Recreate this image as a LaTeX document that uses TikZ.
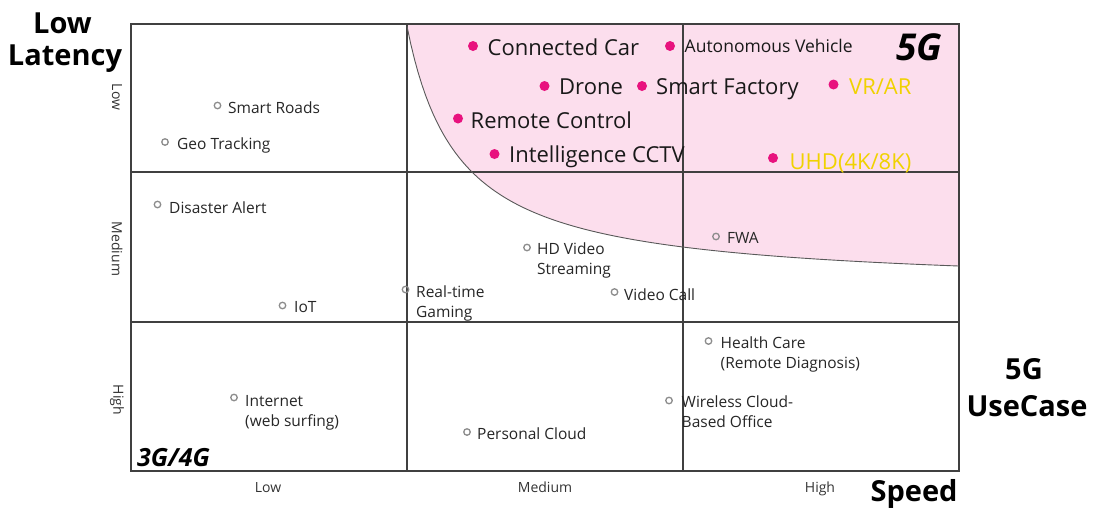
\documentclass[tikz,border=0pt]{standalone}
\usepackage{fontspec}
\setmainfont{Open Sans}
\usepackage{tikz}
\usetikzlibrary{positioning,calc}
\usepackage{xcolor}

\definecolor{fivegpink}{RGB}{252,222,237}
\definecolor{fivegdot}{RGB}{232,18,126}
\definecolor{fivegyellow}{RGB}{240,210,0}

\tikzset{
  gridline/.style={draw=black!75, line width=1.1pt},
  boundary/.style={draw=black!65, line width=0.9pt},
  olddot/.style={circle, draw=black!45, line width=1.3pt, inner sep=0pt, minimum size=6.5pt},
  newdot/.style={circle, fill=fivegdot, inner sep=0pt, minimum size=10pt},
  oldlabel/.style={inner sep=0pt, text=black!85, font=\fontsize{15.5}{20}\selectfont, align=left},
  newlabel/.style={inner sep=0pt, anchor=base west, text=black!90, font=\fontsize{22}{26}\selectfont},
  ticklabel/.style={inner sep=0pt, text=black!80, font=\fontsize{14}{16}\selectfont},
  axislabel/.style={inner sep=0pt, anchor=base, font=\fontsize{29}{32}\selectfont\bfseries},
  genlabel/.style={inner sep=0pt, anchor=base west, font=\bfseries\itshape},
}

\begin{document}
\begin{tikzpicture}[x=1pt, y=-1pt]
  \useasboundingbox (0,0) rectangle (1099,512);

  % 5G region
  \fill[fivegpink] (407,24) -- plot[domain=407:959, samples=150] (\x, {288.6-13640/(\x-355)})
    -- (959,24) -- cycle;

  % Grid
  \draw[gridline] (131,24) rectangle (959,471);
  \foreach \x in {407, 683}
  \draw[gridline] (\x,24) -- (\x,471);
  \foreach \y in {172, 322}
  \draw[gridline] (131,\y) -- (959,\y);

  % Border of the 5G region
  \draw[boundary] plot[domain=407:959, samples=150] (\x, {288.6-13640/(\x-355)});

  % Ticks
  \foreach \x/\t in {268/Low, 545/Medium, 820/High}
  \node[ticklabel, anchor=base] (speed-\t) at (\x,492) {\t};
  \foreach \y/\t in {97/Low, 249/Medium, 400/High}
  \node[ticklabel, rotate=-90] (latency-\t) at (117,\y) {\t};

  % Axis titles
  \node[axislabel] (lowtitle) at (62.5,33) {Low};
  \node[axislabel] (latencytitle) at (65,65) {Latency};
  \node[axislabel] (fivegtitle) at (1024,379) {5G};
  \node[axislabel] (usecasetitle) at (1027,416) {UseCase};
  \node[axislabel] (speedtitle) at (914,501.5) {Speed};

  % Generations
  \node[genlabel, font=\fontsize{37}{40}\selectfont\bfseries\itshape] (fiveg) at (896,60) {5G};
  \node[genlabel, font=\fontsize{25}{28}\selectfont\bfseries\itshape] (fourg) at (137,466) {3G/4G};

  % Use cases, 3G/4G
  \node[olddot] (roads) at (217.5,105.5) {};
  \node[oldlabel, anchor=base west] (roads-t) at (228,113.5) {Smart Roads};
  \node[olddot] (geo) at (165,142) {};
  \node[oldlabel, anchor=base west] (geo-t) at (177,149) {Geo Tracking};
  \node[olddot] (disaster) at (157.5,204.5) {};
  \node[oldlabel, anchor=base west] (disaster-t) at (169,213) {Disaster Alert};
  \node[olddot] (iot) at (282.5,305.5) {};
  \node[oldlabel, anchor=base west] (iot-t) at (294,312.5) {IoT};
  \node[olddot] (gaming) at (405.5,289.5) {};
  \node[oldlabel, anchor=north west] (gaming-t) at (416,285.5) {Real-time\\Gaming};
  \node[olddot] (hdvideo) at (527,247.5) {};
  \node[oldlabel, anchor=north west] (hdvideo-t) at (537,243) {HD Video\\Streaming};
  \node[olddot] (videocall) at (614.5,292) {};
  \node[oldlabel, anchor=base west] (videocall-t) at (624,300) {Video Call};
  \node[olddot] (fwa) at (716,236.5) {};
  \node[oldlabel, anchor=base west] (fwa-t) at (727,243.5) {FWA};
  \node[olddot] (health) at (708.5,341) {};
  \node[oldlabel, anchor=north west] (health-t) at (720.5,337) {Health Care\\(Remote Diagnosis)};
  \node[olddot] (office) at (669,400.5) {};
  \node[oldlabel, anchor=north west] (office-t) at (681.5,395.5) {Wireless Cloud-\\Based Office};
  \node[olddot] (internet) at (234,397.5) {};
  \node[oldlabel, anchor=north west] (internet-t) at (245,395) {Internet\\(web surfing)};
  \node[olddot] (pcloud) at (467,432) {};
  \node[oldlabel, anchor=base west] (pcloud-t) at (477,439) {Personal Cloud};

  % Use cases, 5G
  \node[newdot] (car) at (473,46) {};
  \node[newlabel] (car-t) at (487.5,55) {Connected Car};
  \node[newdot] (auto) at (670,46) {};
  \node[newlabel, font=\fontsize{17.5}{20}\selectfont] (auto-t) at (684.5,52.5) {Autonomous Vehicle};
  \node[newdot] (drone) at (544.5,86) {};
  \node[newlabel] (drone-t) at (559,94.5) {Drone};
  \node[newdot] (factory) at (642,86) {};
  \node[newlabel] (factory-t) at (656,94.5) {Smart Factory};
  \node[newdot] (vrar) at (833.5,84.5) {};
  \node[newlabel, text=fivegyellow] (vrar-t) at (849,94) {VR/AR};
  \node[newdot] (remote) at (458,118.5) {};
  \node[newlabel] (remote-t) at (470.5,128.5) {Remote Control};
  \node[newdot] (cctv) at (494.5,154) {};
  \node[newlabel] (cctv-t) at (509,162.5) {Intelligence CCTV};
  \node[newdot] (uhd) at (773,158) {};
  \node[newlabel, text=fivegyellow] (uhd-t) at (789.5,169) {UHD(4K/8K)};
\end{tikzpicture}
\end{document}
